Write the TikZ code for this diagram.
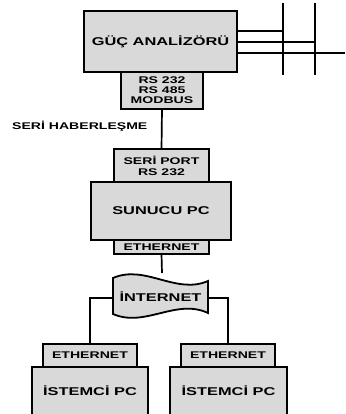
\documentclass[tikz,border=0pt]{standalone}
\usepackage{fontspec}
\setmainfont{Liberation Sans}[FakeStretch=1.45]
\definecolor{boxgray}{RGB}{217,217,217}
\begin{document}
\begin{tikzpicture}[x=1pt,y=-1pt,
  box/.style={draw=black, line width=1.8pt, fill=boxgray, inner sep=0pt, outer sep=0pt, align=center},
  big/.style={font=\fontsize{11.3}{13}\selectfont\bfseries},
  small/.style={font=\fontsize{9.7}{10}\selectfont\bfseries},
  conn/.style={draw=black, line width=1.7pt},
  bus/.style={draw=black, line width=1.8pt}]
\useasboundingbox (0,0) rectangle (345,414);
\begin{scope}
\clip (0,0) rectangle (345,414);
% power analyser
\node[box, big, minimum width=153pt, minimum height=61pt] (ga) at (160.5,41.5) {GÜÇ ANALİZÖRÜ};
\node[box, small, minimum width=82pt, minimum height=37pt, font=\fontsize{9.7}{10}\selectfont\bfseries] (rs) at (162,90.5) {RS 232\\RS 485\\MODBUS};
% bus
\coordinate (v1t) at (283,3); \coordinate (v1b) at (283,75);
\coordinate (v2t) at (315,3); \coordinate (v2b) at (315,75);
\coordinate (h3e) at (345,53);
\draw[bus] (v1t) -- (v1b);
\draw[bus] (v2t) -- (v2b);
\draw[bus] (ga.east |- 0,31) -- (v1t |- 0,31);
\draw[bus] (ga.east |- 0,42) -- (v2t |- 0,42);
\draw[bus] (ga.east |- 0,53) -- (h3e);
% server
\node[box, small, minimum width=95pt, minimum height=33pt, font=\fontsize{9.7}{11}\selectfont\bfseries] (sp) at (161.5,165.5) {SERİ PORT\\RS 232};
\node[box, big, minimum width=140pt, minimum height=58pt] (sun) at (161,211) {SUNUCU PC};
\node[box, small, minimum width=95pt, minimum height=14pt] (eth) at (161.5,247) {ETHERNET};
\draw[conn] (rs.south) -- (sp.north);
\node[small, anchor=west, inner sep=0pt] (ser) at (12,126) {SERİ HABERLEŞME};
% internet tape
\coordinate (tl) at (113,278);
\coordinate (tr) at (208,281);
\coordinate (br) at (208,313);
\coordinate (bl) at (113,314);
\filldraw[fill=boxgray, draw=black, line width=1.8pt]
  (tl) .. controls (145,264) and (176,295) .. (tr) -- (br)
  .. controls (176,298) and (145,328) .. (bl) -- cycle;
\node[big, inner sep=0pt] (inet) at (160.5,296.5) {İNTERNET};
\coordinate (inl) at (113,298);
\coordinate (inr) at (208,298);
\coordinate (intop) at (162,273);
\draw[conn] (eth.south) -- (intop);
% clients
\node[box, small, minimum width=94pt, minimum height=23pt] (e1) at (90,355.5) {ETHERNET};
\node[box, minimum width=116pt, minimum height=48pt] (c1) at (90,391) {};
\node[big, inner sep=0pt] (t1) at (90,391) {İSTEMCİ PC};
\node[box, small, minimum width=94pt, minimum height=23pt] (e2) at (228,355.5) {ETHERNET};
\node[box, minimum width=117pt, minimum height=48pt] (c2) at (228.5,391) {};
\node[big, inner sep=0pt] (t2) at (228.5,391) {İSTEMCİ PC};
\draw[conn] (inl) -- (e1.north |- inl) -- (e1.north);
\draw[conn] (inr) -- (e2.north |- inr) -- (e2.north);
\end{scope}
\end{tikzpicture}
\end{document}
